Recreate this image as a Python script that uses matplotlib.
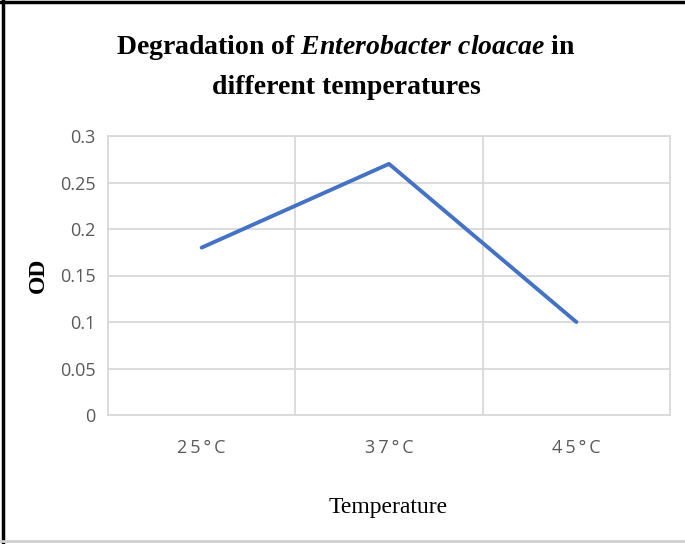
import matplotlib.pyplot as plt
import matplotlib.font_manager as fm
from matplotlib.lines import Line2D

plt.rcParams["mathtext.fontset"] = "custom"
plt.rcParams["mathtext.it"] = "Liberation Serif:italic:bold"
plt.rcParams["mathtext.rm"] = "Liberation Serif:bold"

# OD values
temperatures = ["2\u20095\u2009°\u2009C", "3\u20097\u2009°\u2009C", "4\u20095\u2009°\u2009C"]
od_values = [0.18, 0.27, 0.10]
y_ticks = [0, 0.05, 0.1, 0.15, 0.2, 0.25, 0.3]
y_labels = ["0", "0.05", "0.1", "0.15", "0.2", "0.25", "0.3"]

names = {f.name for f in fm.fontManager.ttflist}
tick_font = "Liberation Sans Narrow" if "Liberation Sans Narrow" in names else "Open Sans"

fig = plt.figure(figsize=(6.85, 5.44), dpi=100)
ax = fig.add_axes([108 / 685, 1 - 415 / 544, 562 / 685, 279 / 544])

x = [i + 0.5 for i in range(len(temperatures))]
ax.plot(x, od_values, color="#4472C4", linewidth=2.8, solid_capstyle="round")

ax.set_xlim(0, 3)
ax.set_ylim(0, 0.3)
ax.set_yticks(y_ticks)
ax.set_yticklabels(y_labels)
ax.set_xticks(x)
ax.set_xticklabels(temperatures)
ax.tick_params(length=0, labelsize=13, labelcolor="#595959", pad=9)
ax.tick_params(axis="x", pad=17)
for lab in ax.get_xticklabels() + ax.get_yticklabels():
    lab.set_fontfamily([tick_font, "DejaVu Sans"])

grid_c = "#d9d9d9"
for yv in y_ticks:
    ax.axhline(yv, color=grid_c, linewidth=1.3, zorder=0)
for xv in [1, 2]:
    ax.axvline(xv, color=grid_c, linewidth=1.3, zorder=0)
for s in ax.spines.values():
    s.set_color(grid_c)
    s.set_linewidth(1.3)

ax.set_ylabel("OD", fontfamily="Liberation Serif", fontweight="bold", fontsize=17, labelpad=8)

fig.text(388 / 685, 1 - 508 / 544, "Temperature", ha="center", va="center",
         fontfamily="Liberation Serif", fontsize=17)

title_font = dict(fontfamily="Liberation Serif", fontweight="bold", fontsize=20)
fig.text(346 / 685, 1 - 47 / 544,
         r"Degradation of $\mathit{Enterobacter\ cloacae}$ in",
         ha="center", va="center", **title_font)
fig.text(346 / 685, 1 - 87 / 544, "different temperatures",
         ha="center", va="center", **title_font)

# border around the chart
fig.add_artist(Line2D([0, 1], [1 - 2 / 544, 1 - 2 / 544], color="black", linewidth=2.5, transform=fig.transFigure))
fig.add_artist(Line2D([3 / 685, 3 / 685], [0, 1], color="black", linewidth=2.5, transform=fig.transFigure))
fig.add_artist(Line2D([0, 1], [3 / 544, 3 / 544], color="#d0d0d0", linewidth=2, transform=fig.transFigure))

fig.savefig("out.png", dpi=100)
